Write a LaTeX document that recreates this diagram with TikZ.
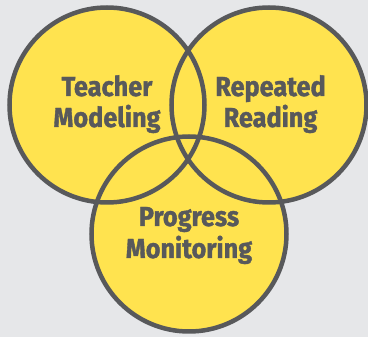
\documentclass[tikz,border=0pt]{standalone}
\usepackage{fontspec}
\setmainfont{Fira Sans}
\newfontfamily\lblfont[FakeStretch=0.92,BoldFeatures={FakeBold=1.3}]{Fira Sans}
\definecolor{bg}{HTML}{E6E7E9}
\definecolor{vyellow}{HTML}{FFE34F}
\definecolor{vgray}{HTML}{58595B}
\begin{document}
\begin{tikzpicture}[x=1pt,y=-1pt,
  ring/.style={circle,minimum size=195pt,inner sep=0pt},
  lbl/.style={anchor=base,inner sep=0pt,text=vgray,font=\lblfont\fontsize{27.5}{30}\selectfont\bfseries}]
\useasboundingbox (0,0) rectangle (368,337);
\clip (0,0) rectangle (368,337);
\fill[bg] (0,0) rectangle (368,337);
\node[ring,fill=vyellow] (L) at (107,105) {};
\node[ring,fill=vyellow] (R) at (269,105) {};
\node[ring,fill=vyellow] (B) at (189,234) {};
\draw[vgray,line width=4.5pt] (L.center) circle[radius=97.5];
\draw[vgray,line width=4.5pt] (R.center) circle[radius=97.5];
\draw[vgray,line width=4.5pt] (B.center) circle[radius=97.5];
\node[lbl] (t1) at (107,96) {Teacher};
\node[lbl] (t2) at (107,127) {Modeling};
\node[lbl] (r1) at (270.5,96) {Repeated};
\node[lbl] (r2) at (270.5,127) {Reading};
\node[lbl] (p1) at (189,226) {Progress};
\node[lbl] (p2) at (189,258) {Monitoring};
\end{tikzpicture}
\end{document}
